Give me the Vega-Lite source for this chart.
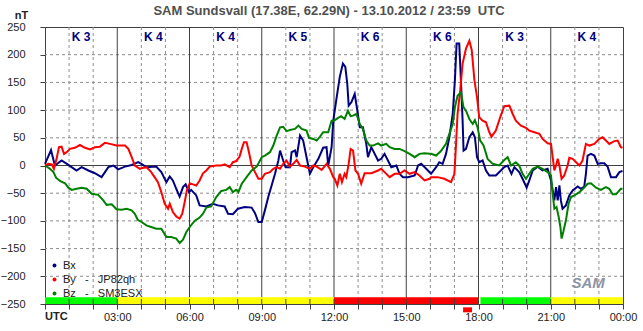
{
  "$schema": "https://vega.github.io/schema/vega-lite/v6.json",
  "width": 578,
  "height": 277,
  "autosize": {"type": "none"},
  "padding": {"left": 45, "top": 27, "right": 20, "bottom": 27},
  "background": "white",
  "config": {
    "font": "Liberation Sans",
    "view": {"stroke": "#404040", "strokeWidth": 1},
    "axis": {"labelOverlap": false, "labelFlush": false, "grid": false}
  },
  "title": {
    "text": "SAM Sundsvall (17.38E, 62.29N) - 13.10.2012 / 23:59\u00a0 UTC",
    "fontSize": 13,
    "fontWeight": "bold",
    "color": "#505050",
    "frame": "group",
    "anchor": "middle",
    "offset": 6,
    "dx": -5,
    "dy": 15
  },
  "datasets": {
    "levels": [
      {"t": 0, "t2": 3, "lvl": "quiet"},
      {"t": 3, "t2": 12, "lvl": "unsettled"},
      {"t": 12, "t2": 18, "lvl": "storm"},
      {"t": 18.08, "t2": 21, "lvl": "quiet"},
      {"t": 21, "t2": 24, "lvl": "unsettled"}
    ],
    "kidx": [
      {"t": 1.5, "k": "K 3"}, {"t": 4.5, "k": "K 4"}, {"t": 7.5, "k": "K 4"}, {"t": 10.5, "k": "K 5"},
      {"t": 13.5, "k": "K 6"}, {"t": 16.5, "k": "K 6"}, {"t": 19.5, "k": "K 3"}, {"t": 22.5, "k": "K 4"}
    ],
    "hours": [
      {"t": 1}, {"t": 2}, {"t": 3}, {"t": 4}, {"t": 5}, {"t": 6}, {"t": 7}, {"t": 8}, {"t": 9}, {"t": 10}, {"t": 11}, {"t": 12},
      {"t": 13}, {"t": 14}, {"t": 15}, {"t": 16}, {"t": 17}, {"t": 18}, {"t": 19}, {"t": 20}, {"t": 21}, {"t": 22}, {"t": 23}
    ],
    "minorHours": [
      {"t": 1}, {"t": 2}, {"t": 4}, {"t": 5}, {"t": 7}, {"t": 8}, {"t": 10}, {"t": 11},
      {"t": 13}, {"t": 14}, {"t": 16}, {"t": 17}, {"t": 19}, {"t": 20}, {"t": 22}, {"t": 23}
    ],
    "majorHours": [{"t": 3}, {"t": 6}, {"t": 9}, {"t": 12}, {"t": 15}, {"t": 18}, {"t": 21}],
    "levelsNT": [{"v": -200}, {"v": -150}, {"v": -100}, {"v": -50}, {"v": 50}, {"v": 100}, {"v": 150}, {"v": 200}],
    "zeroNT": [{"v": 0}],
    "utc": [{"t": 0, "s": "UTC"}],
    "marker": [{"t": 17.36, "t2": 17.73, "lvl": "storm"}],
    "logo": [{"t": 22.55, "s": "SAM"}],
    "mag": [
      {"t":0,"c":"Bx","v":3},{"t":0.25,"c":"Bx","v":28},{"t":0.41,"c":"Bx","v":0},{"t":0.69,"c":"Bx","v":9},{"t":0.97,"c":"Bx","v":1},{"t":1.31,"c":"Bx","v":-9},{"t":1.52,"c":"Bx","v":-3},{"t":1.8,"c":"Bx","v":-9},{"t":2.07,"c":"Bx","v":-14},{"t":2.35,"c":"Bx","v":-21},{"t":2.63,"c":"Bx","v":-3},{"t":2.84,"c":"Bx","v":0},{"t":3.04,"c":"Bx","v":-7},{"t":3.32,"c":"Bx","v":-2},{"t":3.6,"c":"Bx","v":1},{"t":3.87,"c":"Bx","v":6},
      {"t":4.0,"c":"Bx","v":3},{"t":4.21,"c":"Bx","v":-3},{"t":4.62,"c":"Bx","v":-2},{"t":4.83,"c":"Bx","v":-12},{"t":5.04,"c":"Bx","v":-30},{"t":5.18,"c":"Bx","v":-20},{"t":5.31,"c":"Bx","v":-27},{"t":5.45,"c":"Bx","v":-42},{"t":5.59,"c":"Bx","v":-56},{"t":5.73,"c":"Bx","v":-39},{"t":5.84,"c":"Bx","v":-34},{"t":5.98,"c":"Bx","v":-48},{"t":6.07,"c":"Bx","v":-44},{"t":6.28,"c":"Bx","v":-54},{"t":6.42,"c":"Bx","v":-72},{"t":6.7,"c":"Bx","v":-74},{"t":6.97,"c":"Bx","v":-69},{"t":7.18,"c":"Bx","v":-72},{"t":7.46,"c":"Bx","v":-74},{"t":7.6,"c":"Bx","v":-87},{"t":7.8,"c":"Bx","v":-88},{"t":8.01,"c":"Bx","v":-78},
      {"t":8.3,"c":"Bx","v":-75},{"t":8.58,"c":"Bx","v":-76},{"t":8.72,"c":"Bx","v":-86},{"t":8.86,"c":"Bx","v":-102},{"t":9.0,"c":"Bx","v":-102},{"t":9.13,"c":"Bx","v":-81},{"t":9.27,"c":"Bx","v":-57},{"t":9.41,"c":"Bx","v":-36},{"t":9.55,"c":"Bx","v":-15},{"t":9.69,"c":"Bx","v":9},{"t":9.76,"c":"Bx","v":27},{"t":9.89,"c":"Bx","v":9},{"t":9.99,"c":"Bx","v":-3},{"t":10.17,"c":"Bx","v":-3},{"t":10.24,"c":"Bx","v":24},{"t":10.38,"c":"Bx","v":27},{"t":10.45,"c":"Bx","v":15},{"t":10.59,"c":"Bx","v":54},{"t":10.72,"c":"Bx","v":45},{"t":10.86,"c":"Bx","v":15},{"t":11.0,"c":"Bx","v":-15},{"t":11.14,"c":"Bx","v":-3},{"t":11.35,"c":"Bx","v":12},{"t":11.55,"c":"Bx","v":32},{"t":11.69,"c":"Bx","v":33},{"t":11.76,"c":"Bx","v":0},{"t":11.9,"c":"Bx","v":33},{"t":11.97,"c":"Bx","v":81},
      {"t":12.03,"c":"Bx","v":99},{"t":12.1,"c":"Bx","v":120},{"t":12.24,"c":"Bx","v":160},{"t":12.37,"c":"Bx","v":184},{"t":12.47,"c":"Bx","v":178},{"t":12.55,"c":"Bx","v":148},{"t":12.61,"c":"Bx","v":108},{"t":12.72,"c":"Bx","v":114},{"t":12.86,"c":"Bx","v":129},{"t":12.97,"c":"Bx","v":99},{"t":13.07,"c":"Bx","v":69},{"t":13.2,"c":"Bx","v":69},{"t":13.34,"c":"Bx","v":39},{"t":13.41,"c":"Bx","v":15},{"t":13.55,"c":"Bx","v":33},{"t":13.69,"c":"Bx","v":21},{"t":13.83,"c":"Bx","v":9},{"t":13.96,"c":"Bx","v":12},{"t":14.1,"c":"Bx","v":21},{"t":14.24,"c":"Bx","v":9},{"t":14.38,"c":"Bx","v":-3},{"t":14.59,"c":"Bx","v":0},{"t":14.72,"c":"Bx","v":-15},{"t":14.86,"c":"Bx","v":-21},{"t":15.07,"c":"Bx","v":-21},{"t":15.35,"c":"Bx","v":-18},{"t":15.49,"c":"Bx","v":0},{"t":15.62,"c":"Bx","v":3},{"t":15.83,"c":"Bx","v":-6},
      {"t":16.03,"c":"Bx","v":-15},{"t":16.24,"c":"Bx","v":-3},{"t":16.37,"c":"Bx","v":6},{"t":16.51,"c":"Bx","v":3},{"t":16.65,"c":"Bx","v":21},{"t":16.79,"c":"Bx","v":51},{"t":16.93,"c":"Bx","v":93},{"t":17.02,"c":"Bx","v":154},{"t":17.09,"c":"Bx","v":220},{"t":17.2,"c":"Bx","v":220},{"t":17.27,"c":"Bx","v":154},{"t":17.34,"c":"Bx","v":81},{"t":17.38,"c":"Bx","v":27},{"t":17.48,"c":"Bx","v":30},{"t":17.62,"c":"Bx","v":51},{"t":17.76,"c":"Bx","v":60},{"t":17.85,"c":"Bx","v":51},{"t":17.94,"c":"Bx","v":15},{"t":18.03,"c":"Bx","v":6},{"t":18.17,"c":"Bx","v":9},{"t":18.31,"c":"Bx","v":-9},{"t":18.45,"c":"Bx","v":-18},{"t":18.72,"c":"Bx","v":-18},{"t":18.93,"c":"Bx","v":-9},{"t":19.07,"c":"Bx","v":-3},{"t":19.21,"c":"Bx","v":0},{"t":19.37,"c":"Bx","v":-15},{"t":19.49,"c":"Bx","v":-3},{"t":19.69,"c":"Bx","v":-12},{"t":19.83,"c":"Bx","v":-24},
      {"t":20.0,"c":"Bx","v":-40},{"t":20.11,"c":"Bx","v":-27},{"t":20.25,"c":"Bx","v":-9},{"t":20.46,"c":"Bx","v":-2},{"t":20.66,"c":"Bx","v":-9},{"t":20.87,"c":"Bx","v":-6},{"t":21.01,"c":"Bx","v":-27},{"t":21.08,"c":"Bx","v":-45},{"t":21.15,"c":"Bx","v":-63},{"t":21.22,"c":"Bx","v":-39},{"t":21.29,"c":"Bx","v":-63},{"t":21.36,"c":"Bx","v":-36},{"t":21.42,"c":"Bx","v":-63},{"t":21.49,"c":"Bx","v":-78},{"t":21.63,"c":"Bx","v":-72},{"t":21.77,"c":"Bx","v":-54},{"t":21.91,"c":"Bx","v":-45},{"t":22.12,"c":"Bx","v":-38},{"t":22.25,"c":"Bx","v":-42},{"t":22.39,"c":"Bx","v":-38},{"t":22.46,"c":"Bx","v":-15},{"t":22.53,"c":"Bx","v":18},{"t":22.67,"c":"Bx","v":21},{"t":22.81,"c":"Bx","v":18},{"t":22.95,"c":"Bx","v":3},{"t":23.08,"c":"Bx","v":4},{"t":23.22,"c":"Bx","v":4},{"t":23.36,"c":"Bx","v":-2},{"t":23.5,"c":"Bx","v":-21},{"t":23.71,"c":"Bx","v":-21},{"t":23.85,"c":"Bx","v":-12},{"t":23.98,"c":"Bx","v":-10},

      {"t":0,"c":"By","v":0},{"t":0.14,"c":"By","v":3},{"t":0.28,"c":"By","v":2},{"t":0.37,"c":"By","v":-6},{"t":0.48,"c":"By","v":12},{"t":0.58,"c":"By","v":33},{"t":0.69,"c":"By","v":34},{"t":0.79,"c":"By","v":21},{"t":0.9,"c":"By","v":24},{"t":1.04,"c":"By","v":30},{"t":1.24,"c":"By","v":32},{"t":1.45,"c":"By","v":37},{"t":1.66,"c":"By","v":32},{"t":1.87,"c":"By","v":29},{"t":2.07,"c":"By","v":33},{"t":2.28,"c":"By","v":34},{"t":2.49,"c":"By","v":41},{"t":2.7,"c":"By","v":39},{"t":2.97,"c":"By","v":36},{"t":3.18,"c":"By","v":36},{"t":3.32,"c":"By","v":36},{"t":3.46,"c":"By","v":30},{"t":3.6,"c":"By","v":15},{"t":3.73,"c":"By","v":0},{"t":3.94,"c":"By","v":-6},
      {"t":4.0,"c":"By","v":-5},{"t":4.21,"c":"By","v":-3},{"t":4.41,"c":"By","v":-12},{"t":4.55,"c":"By","v":-21},{"t":4.69,"c":"By","v":-30},{"t":4.83,"c":"By","v":-48},{"t":4.97,"c":"By","v":-69},{"t":5.11,"c":"By","v":-78},{"t":5.18,"c":"By","v":-69},{"t":5.31,"c":"By","v":-84},{"t":5.45,"c":"By","v":-92},{"t":5.59,"c":"By","v":-96},{"t":5.7,"c":"By","v":-87},{"t":5.8,"c":"By","v":-66},{"t":5.89,"c":"By","v":-45},{"t":6.01,"c":"By","v":-32},{"t":6.14,"c":"By","v":-34},{"t":6.28,"c":"By","v":-36},{"t":6.42,"c":"By","v":-27},{"t":6.56,"c":"By","v":-14},{"t":6.7,"c":"By","v":-9},{"t":6.84,"c":"By","v":-2},{"t":7.11,"c":"By","v":0},{"t":7.32,"c":"By","v":0},{"t":7.46,"c":"By","v":2},{"t":7.67,"c":"By","v":-3},{"t":7.8,"c":"By","v":6},{"t":7.94,"c":"By","v":8},{"t":8.08,"c":"By","v":16},
      {"t":8.17,"c":"By","v":30},{"t":8.26,"c":"By","v":42},{"t":8.37,"c":"By","v":42},{"t":8.47,"c":"By","v":24},{"t":8.58,"c":"By","v":0},{"t":8.72,"c":"By","v":-12},{"t":8.86,"c":"By","v":-24},{"t":9.0,"c":"By","v":-24},{"t":9.13,"c":"By","v":-15},{"t":9.34,"c":"By","v":-12},{"t":9.48,"c":"By","v":-6},{"t":9.62,"c":"By","v":-3},{"t":9.76,"c":"By","v":-6},{"t":9.89,"c":"By","v":3},{"t":10.03,"c":"By","v":9},{"t":10.17,"c":"By","v":-2},{"t":10.31,"c":"By","v":3},{"t":10.45,"c":"By","v":10},{"t":10.59,"c":"By","v":0},{"t":10.79,"c":"By","v":-2},{"t":11.0,"c":"By","v":-6},{"t":11.14,"c":"By","v":0},{"t":11.28,"c":"By","v":-2},{"t":11.49,"c":"By","v":-8},{"t":11.69,"c":"By","v":3},{"t":11.83,"c":"By","v":-6},{"t":11.97,"c":"By","v":-21},
      {"t":12.03,"c":"By","v":-24},{"t":12.14,"c":"By","v":-36},{"t":12.24,"c":"By","v":-15},{"t":12.33,"c":"By","v":-30},{"t":12.44,"c":"By","v":-15},{"t":12.51,"c":"By","v":-21},{"t":12.61,"c":"By","v":3},{"t":12.69,"c":"By","v":30},{"t":12.79,"c":"By","v":27},{"t":12.89,"c":"By","v":-9},{"t":13.0,"c":"By","v":-15},{"t":13.13,"c":"By","v":-33},{"t":13.27,"c":"By","v":-14},{"t":13.55,"c":"By","v":-14},{"t":13.83,"c":"By","v":-9},{"t":13.96,"c":"By","v":-6},{"t":14.1,"c":"By","v":-12},{"t":14.31,"c":"By","v":-21},{"t":14.52,"c":"By","v":-15},{"t":14.72,"c":"By","v":-15},{"t":14.93,"c":"By","v":-9},{"t":15.14,"c":"By","v":-15},{"t":15.35,"c":"By","v":-12},{"t":15.55,"c":"By","v":-18},{"t":15.76,"c":"By","v":-27},{"t":15.97,"c":"By","v":-24},
      {"t":16.03,"c":"By","v":-21},{"t":16.3,"c":"By","v":-21},{"t":16.58,"c":"By","v":-24},{"t":16.86,"c":"By","v":-30},{"t":17.0,"c":"By","v":-15},{"t":17.06,"c":"By","v":33},{"t":17.13,"c":"By","v":93},{"t":17.24,"c":"By","v":135},{"t":17.34,"c":"By","v":184},{"t":17.48,"c":"By","v":211},{"t":17.62,"c":"By","v":225},{"t":17.72,"c":"By","v":208},{"t":17.83,"c":"By","v":154},{"t":17.94,"c":"By","v":123},{"t":18.03,"c":"By","v":87},{"t":18.17,"c":"By","v":81},{"t":18.31,"c":"By","v":78},{"t":18.45,"c":"By","v":60},{"t":18.54,"c":"By","v":52},{"t":18.72,"c":"By","v":63},{"t":18.9,"c":"By","v":87},{"t":19.07,"c":"By","v":107},{"t":19.28,"c":"By","v":108},{"t":19.42,"c":"By","v":93},{"t":19.55,"c":"By","v":81},{"t":19.76,"c":"By","v":72},{"t":19.97,"c":"By","v":68},
      {"t":20.11,"c":"By","v":63},{"t":20.32,"c":"By","v":60},{"t":20.53,"c":"By","v":57},{"t":20.66,"c":"By","v":48},{"t":20.87,"c":"By","v":40},{"t":21.01,"c":"By","v":39},{"t":21.08,"c":"By","v":15},{"t":21.15,"c":"By","v":-9},{"t":21.22,"c":"By","v":0},{"t":21.29,"c":"By","v":12},{"t":21.36,"c":"By","v":0},{"t":21.45,"c":"By","v":-24},{"t":21.56,"c":"By","v":-18},{"t":21.7,"c":"By","v":0},{"t":21.77,"c":"By","v":14},{"t":21.91,"c":"By","v":12},{"t":22.05,"c":"By","v":6},{"t":22.19,"c":"By","v":0},{"t":22.32,"c":"By","v":9},{"t":22.46,"c":"By","v":39},{"t":22.6,"c":"By","v":36},{"t":22.81,"c":"By","v":39},{"t":23.02,"c":"By","v":48},{"t":23.15,"c":"By","v":51},{"t":23.29,"c":"By","v":45},{"t":23.43,"c":"By","v":39},{"t":23.64,"c":"By","v":44},{"t":23.78,"c":"By","v":45},{"t":23.91,"c":"By","v":33},{"t":23.98,"c":"By","v":32},

      {"t":0,"c":"Bz","v":0},{"t":0.21,"c":"Bz","v":-6},{"t":0.35,"c":"Bz","v":-12},{"t":0.46,"c":"Bz","v":-22},{"t":0.62,"c":"Bz","v":-28},{"t":0.83,"c":"Bz","v":-32},{"t":0.97,"c":"Bz","v":-40},{"t":1.11,"c":"Bz","v":-44},{"t":1.31,"c":"Bz","v":-42},{"t":1.52,"c":"Bz","v":-40},{"t":1.73,"c":"Bz","v":-42},{"t":1.94,"c":"Bz","v":-51},{"t":2.21,"c":"Bz","v":-53},{"t":2.42,"c":"Bz","v":-63},{"t":2.56,"c":"Bz","v":-71},{"t":2.77,"c":"Bz","v":-70},{"t":2.97,"c":"Bz","v":-79},{"t":3.18,"c":"Bz","v":-80},{"t":3.39,"c":"Bz","v":-78},{"t":3.6,"c":"Bz","v":-81},{"t":3.73,"c":"Bz","v":-87},{"t":3.85,"c":"Bz","v":-98},{"t":4.01,"c":"Bz","v":-102},
      {"t":4.21,"c":"Bz","v":-108},{"t":4.41,"c":"Bz","v":-111},{"t":4.62,"c":"Bz","v":-114},{"t":4.83,"c":"Bz","v":-114},{"t":5.04,"c":"Bz","v":-129},{"t":5.24,"c":"Bz","v":-129},{"t":5.45,"c":"Bz","v":-132},{"t":5.59,"c":"Bz","v":-140},{"t":5.73,"c":"Bz","v":-134},{"t":5.87,"c":"Bz","v":-120},{"t":6.01,"c":"Bz","v":-111},{"t":6.21,"c":"Bz","v":-100},{"t":6.42,"c":"Bz","v":-94},{"t":6.56,"c":"Bz","v":-87},{"t":6.7,"c":"Bz","v":-76},{"t":6.9,"c":"Bz","v":-74},{"t":7.11,"c":"Bz","v":-57},{"t":7.32,"c":"Bz","v":-46},{"t":7.53,"c":"Bz","v":-44},{"t":7.67,"c":"Bz","v":-39},{"t":7.8,"c":"Bz","v":-48},{"t":7.94,"c":"Bz","v":-44},
      {"t":8.03,"c":"Bz","v":-48},{"t":8.17,"c":"Bz","v":-33},{"t":8.37,"c":"Bz","v":-21},{"t":8.58,"c":"Bz","v":-9},{"t":8.79,"c":"Bz","v":-2},{"t":9.0,"c":"Bz","v":15},{"t":9.13,"c":"Bz","v":18},{"t":9.34,"c":"Bz","v":24},{"t":9.48,"c":"Bz","v":36},{"t":9.62,"c":"Bz","v":54},{"t":9.76,"c":"Bz","v":69},{"t":9.89,"c":"Bz","v":70},{"t":10.03,"c":"Bz","v":62},{"t":10.17,"c":"Bz","v":64},{"t":10.38,"c":"Bz","v":66},{"t":10.52,"c":"Bz","v":72},{"t":10.66,"c":"Bz","v":66},{"t":10.86,"c":"Bz","v":63},{"t":10.96,"c":"Bz","v":50},{"t":11.14,"c":"Bz","v":48},{"t":11.28,"c":"Bz","v":45},{"t":11.42,"c":"Bz","v":52},{"t":11.55,"c":"Bz","v":60},{"t":11.76,"c":"Bz","v":60},{"t":11.9,"c":"Bz","v":81},
      {"t":12.0,"c":"Bz","v":81},{"t":12.17,"c":"Bz","v":86},{"t":12.3,"c":"Bz","v":89},{"t":12.44,"c":"Bz","v":84},{"t":12.58,"c":"Bz","v":99},{"t":12.69,"c":"Bz","v":89},{"t":12.79,"c":"Bz","v":90},{"t":12.93,"c":"Bz","v":93},{"t":13.07,"c":"Bz","v":75},{"t":13.2,"c":"Bz","v":66},{"t":13.34,"c":"Bz","v":45},{"t":13.48,"c":"Bz","v":36},{"t":13.62,"c":"Bz","v":36},{"t":13.83,"c":"Bz","v":40},{"t":13.96,"c":"Bz","v":36},{"t":14.17,"c":"Bz","v":39},{"t":14.31,"c":"Bz","v":33},{"t":14.52,"c":"Bz","v":30},{"t":14.72,"c":"Bz","v":30},{"t":14.93,"c":"Bz","v":26},{"t":15.14,"c":"Bz","v":21},{"t":15.35,"c":"Bz","v":15},{"t":15.55,"c":"Bz","v":21},{"t":15.76,"c":"Bz","v":22},{"t":15.97,"c":"Bz","v":21},
      {"t":16.03,"c":"Bz","v":21},{"t":16.24,"c":"Bz","v":18},{"t":16.44,"c":"Bz","v":26},{"t":16.65,"c":"Bz","v":39},{"t":16.79,"c":"Bz","v":57},{"t":16.93,"c":"Bz","v":75},{"t":17.02,"c":"Bz","v":105},{"t":17.13,"c":"Bz","v":126},{"t":17.27,"c":"Bz","v":132},{"t":17.38,"c":"Bz","v":105},{"t":17.48,"c":"Bz","v":99},{"t":17.62,"c":"Bz","v":84},{"t":17.76,"c":"Bz","v":75},{"t":17.85,"c":"Bz","v":82},{"t":17.96,"c":"Bz","v":69},{"t":18.07,"c":"Bz","v":45},{"t":18.21,"c":"Bz","v":36},{"t":18.38,"c":"Bz","v":12},{"t":18.59,"c":"Bz","v":3},{"t":18.86,"c":"Bz","v":0},{"t":19.07,"c":"Bz","v":10},{"t":19.21,"c":"Bz","v":15},{"t":19.35,"c":"Bz","v":0},{"t":19.55,"c":"Bz","v":6},{"t":19.69,"c":"Bz","v":0},{"t":19.83,"c":"Bz","v":-15},
      {"t":19.97,"c":"Bz","v":-24},{"t":20.11,"c":"Bz","v":-15},{"t":20.25,"c":"Bz","v":-6},{"t":20.46,"c":"Bz","v":-2},{"t":20.66,"c":"Bz","v":-6},{"t":20.87,"c":"Bz","v":-12},{"t":21.01,"c":"Bz","v":-18},{"t":21.08,"c":"Bz","v":-51},{"t":21.15,"c":"Bz","v":-78},{"t":21.24,"c":"Bz","v":-75},{"t":21.33,"c":"Bz","v":-93},{"t":21.4,"c":"Bz","v":-111},{"t":21.45,"c":"Bz","v":-132},{"t":21.52,"c":"Bz","v":-120},{"t":21.63,"c":"Bz","v":-99},{"t":21.74,"c":"Bz","v":-69},{"t":21.84,"c":"Bz","v":-57},{"t":21.98,"c":"Bz","v":-54},{"t":22.19,"c":"Bz","v":-48},{"t":22.39,"c":"Bz","v":-40},{"t":22.53,"c":"Bz","v":-33},{"t":22.67,"c":"Bz","v":-32},{"t":22.88,"c":"Bz","v":-40},{"t":23.08,"c":"Bz","v":-44},{"t":23.29,"c":"Bz","v":-39},{"t":23.43,"c":"Bz","v":-42},{"t":23.57,"c":"Bz","v":-52},{"t":23.71,"c":"Bz","v":-52},{"t":23.91,"c":"Bz","v":-42},{"t":23.98,"c":"Bz","v":-42}
    ]
  },
  "layer": [
    {
      "data": {"name": "minorHours"},
      "mark": {"type": "rule", "color": "#8c8c8c", "strokeWidth": 1, "strokeDash": [3, 3]},
      "encoding": {
        "x": {
          "field": "t", "type": "quantitative",
          "scale": {"domain": [0, 24], "nice": false, "zero": false},
          "axis": {
            "values": [0,1,2,3,4,5,6,7,8,9,10,11,12,13,14,15,16,17,18,19,20,21,22,23,24],
            "tickCount": 60,
            "title": null,
            "labelExpr": "datum.value == 0 ? '' : (datum.value % 3 == 0 ? (datum.value == 24 ? '00:00' : (datum.value < 10 ? '0' : '') + datum.value + ':00') : '')",
            "labelFlush": false,
            "labelOverlap": false,
            "labelFontSize": 11,
            "labelColor": "#222222",
            "labelPadding": 2,
            "grid": false,
            "tickSize": 5,
            "tickColor": "#404040",
            "domainColor": "#404040"
          }
        }
      }
    },
    {
      "data": {"name": "levelsNT"},
      "mark": {"type": "rule", "color": "#8c8c8c", "strokeWidth": 1, "strokeDash": [3, 3]},
      "encoding": {
        "y": {
          "field": "v", "type": "quantitative",
          "scale": {"domain": [-250, 250], "nice": false},
          "axis": {
            "values": [-250, -200, -150, -100, -50, 0, 50, 100, 150, 200, 250],
            "tickCount": 40,
            "title": "nT",
            "titleAngle": 0,
            "titleX": -24,
            "titleY": -9,
            "titleAlign": "center",
            "titleBaseline": "alphabetic",
            "titleFontSize": 11,
            "titleFontWeight": "bold",
            "titleColor": "#222222",
            "labelFontSize": 11,
            "labelColor": "#222222",
            "labelPadding": 15,
            "labelOverlap": false,
            "grid": false,
            "tickSize": 5,
            "tickColor": "#404040",
            "domainColor": "#404040"
          }
        }
      }
    },
    {
      "data": {"name": "majorHours"},
      "mark": {"type": "rule", "color": "#404040", "strokeWidth": 1},
      "encoding": {
        "x": {"field": "t", "type": "quantitative"}
      }
    },
    {
      "data": {"name": "zeroNT"},
      "mark": {"type": "rule", "color": "#404040", "strokeWidth": 1},
      "encoding": {
        "y": {"field": "v", "type": "quantitative"}
      }
    },
    {
      "data": {"name": "levels"},
      "mark": {"type": "rect"},
      "encoding": {
        "x": {"field": "t", "type": "quantitative"},
        "x2": {"field": "t2"},
        "y": {"datum": -250, "type": "quantitative"},
        "y2": {"datum": -238},
        "fill": {"field": "lvl", "type": "nominal", "scale": {"domain": ["quiet", "unsettled", "storm"], "range": ["#00ff00", "#ffff00", "#ff0000"]}, "legend": null}
      }
    },
    {
      "data": {"name": "marker"},
      "mark": {"type": "rect"},
      "encoding": {
        "x": {"field": "t", "type": "quantitative"},
        "x2": {"field": "t2"},
        "y": {"datum": -256, "type": "quantitative"},
        "y2": {"datum": -265},
        "fill": {"field": "lvl", "type": "nominal", "legend": null}
      }
    },
    {
      "data": {"name": "hours"},
      "mark": {"type": "rule", "color": "#404040", "strokeWidth": 1},
      "encoding": {
        "x": {"field": "t", "type": "quantitative"},
        "y": {"datum": -250, "type": "quantitative"},
        "y2": {"datum": -241}
      }
    },
    {
      "data": {"name": "mag"},
      "mark": {"type": "line", "strokeWidth": 2, "strokeJoin": "miter"},
      "encoding": {
        "x": {"field": "t", "type": "quantitative"},
        "y": {"field": "v", "type": "quantitative"},
        "color": {
          "field": "c", "type": "nominal",
          "scale": {"domain": ["Bx", "By", "Bz"], "range": ["#000080", "#ff0000", "#008000"]},
          "legend": {
            "orient": "none",
            "legendX": 4,
            "legendY": 233,
            "title": null,
            "padding": 0,
            "symbolType": "circle",
            "symbolSize": 4,
            "symbolStrokeWidth": 2,
            "labelFontSize": 11,
            "labelColor": "#222222",
            "labelOffset": 3,
            "rowPadding": 2,
            "labelExpr": "datum.label == 'Bx' ? 'Bx' : (datum.label == 'By' ? 'By\u00a0\u00a0\u00a0-\u00a0\u00a0\u00a0JP82qh' : 'Bz\u00a0\u00a0\u00a0-\u00a0\u00a0\u00a0SM3ESX')"
          }
        }
      }
    },
    {
      "data": {"name": "kidx"},
      "mark": {"type": "text", "fontSize": 12, "fontWeight": "bold", "color": "#000080", "baseline": "alphabetic", "align": "center"},
      "encoding": {
        "x": {"field": "t", "type": "quantitative"},
        "y": {"datum": 224, "type": "quantitative"},
        "text": {"field": "k"}
      }
    },
    {
      "data": {"name": "utc"},
      "mark": {"type": "text", "fontSize": 11, "fontWeight": "bold", "color": "#222222", "baseline": "top", "align": "left"},
      "encoding": {
        "x": {"field": "t", "type": "quantitative"},
        "y": {"datum": -263, "type": "quantitative"},
        "text": {"field": "s"}
      }
    },
    {
      "data": {"name": "logo"},
      "mark": {"type": "text", "fontSize": 15, "fontWeight": "bold", "fontStyle": "italic", "color": "#8c94a8", "baseline": "middle", "align": "center"},
      "encoding": {
        "x": {"field": "t", "type": "quantitative"},
        "y": {"datum": -212, "type": "quantitative"},
        "text": {"field": "s"}
      }
    }
  ]
}
